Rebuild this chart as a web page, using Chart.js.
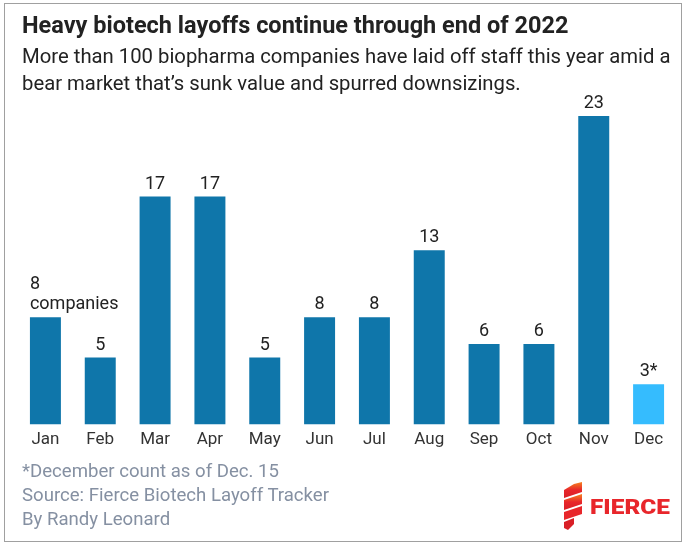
<!DOCTYPE html>
<html>
<head>
<meta charset="utf-8">
<script src="https://cdn.jsdelivr.net/npm/chart.js@4.4.0/dist/chart.umd.min.js"></script>
<style>
  html, body { margin: 0; padding: 0; background: #fff; }
  #wrap { position: relative; width: 686px; height: 546px; overflow: hidden; font-family: Roboto, "Noto Sans", sans-serif; }
  #frame { position: absolute; left: 4px; top: 3px; width: 676px; height: 537px; border: 1px solid #a0a0a0; }
  #chart { position: absolute; left: 0; top: 0; }
  .title { position: absolute; left: 22px; top: 11px; font-size: 23.5px; font-weight: 700; color: #222; white-space: nowrap; }
  .sub { position: absolute; left: 22px; top: 43px; font-size: 20.3px; line-height: 27px; color: #222; white-space: nowrap; }
  .foot { position: absolute; left: 22px; top: 459px; font-size: 18.6px; line-height: 24px; color: #8590a2; white-space: nowrap; }
  #logo { position: absolute; left: 556px; top: 482px; }
</style>
</head>
<body>
<div id="wrap">
  <div id="frame"></div>
  <canvas id="chart" width="686" height="546"></canvas>
  <div class="title">Heavy biotech layoffs continue through end of 2022</div>
  <div class="sub">More than 100 biopharma companies have laid off staff this year amid a<br>bear market that’s sunk value and spurred downsizings.</div>
  <div class="foot">*December count as of Dec. 15<br>Source: Fierce Biotech Layoff Tracker<br>By Randy Leonard</div>
  <svg id="logo" width="120" height="50" viewBox="0 0 120 50">
    <defs>
      <linearGradient id="lg" x1="0" y1="0" x2="0" y2="1">
        <stop offset="0" stop-color="#f58220"/>
        <stop offset="0.5" stop-color="#e8262b"/>
        <stop offset="1" stop-color="#d91f26"/>
      </linearGradient>
    </defs>
    <polygon points="18,2 26,0 26,10 8,16 8,8" fill="url(#lg)"/>
    <polygon points="8,18 26,12 26,22 8,28" fill="url(#lg)"/>
    <polygon points="8,30 26,24 26,32 8,38" fill="#e8262b"/>
    <polygon points="8,40 18,36 18,42 12,48 8,46" fill="#d91f26"/>
    <text x="34" y="32" font-family="Roboto, sans-serif" font-weight="900" font-size="21" fill="#e8262b" textLength="80" lengthAdjust="spacingAndGlyphs">FIERCE</text>
  </svg>
</div>
<script>
const months = ['Jan', 'Feb', 'Mar', 'Apr', 'May', 'Jun', 'Jul', 'Aug', 'Sep', 'Oct', 'Nov', 'Dec'];
const layoffCounts = [8, 5, 17, 17, 5, 8, 8, 13, 6, 6, 23, 3];
const valueLabels = [['8', 'companies'], ['5'], ['17'], ['17'], ['5'], ['8'], ['8'], ['13'], ['6'], ['6'], ['23'], ['3*']];
const barColors = ['#0f76aa', '#0f76aa', '#0f76aa', '#0f76aa', '#0f76aa', '#0f76aa', '#0f76aa', '#0f76aa', '#0f76aa', '#0f76aa', '#0f76aa', '#35bcfe'];

// labels above each bar, drawn from the bar elements
const barLabels = {
    id: 'barLabels',
    afterDatasetsDraw(chart) {
        const ctx = chart.ctx;
        const meta = chart.getDatasetMeta(0);
        ctx.save();
        ctx.font = '18px Roboto, sans-serif';
        ctx.fillStyle = '#222';
        ctx.textBaseline = 'alphabetic';
        meta.data.forEach((bar, i) => {
            const lines = valueLabels[i];
            // multi-line label sits flush with the bar's left edge
            const multi = lines.length > 1;
            ctx.textAlign = multi ? 'left' : 'center';
            const x = multi ? bar.x - bar.width / 2 : bar.x;
            lines.forEach((txt, j) => {
                const y = bar.y - 8 - (lines.length - 1 - j) * 20;
                ctx.fillText(txt, x, y);
            });
        });
        ctx.restore();
    }
};

new Chart(document.getElementById('chart').getContext('2d'), {
    type: 'bar',
    data: {
        labels: months,
        datasets: [{
            data: layoffCounts,
            backgroundColor: barColors,
            barPercentage: 0.565,
            categoryPercentage: 1
        }]
    },
    options: {
        responsive: false,
        animation: false,
        layout: { padding: { left: 18, right: 10, top: 116, bottom: 91 } },
        plugins: { legend: { display: false }, tooltip: { enabled: false } },
        scales: {
            x: {
                grid: { display: false, drawTicks: false },
                border: { display: false },
                ticks: { color: '#333', font: { size: 17, family: 'Roboto' }, padding: 5, maxRotation: 0 }
            },
            y: { display: false, min: 0, max: 23 }
        }
    },
    plugins: [barLabels]
});
</script>
</body>
</html>
